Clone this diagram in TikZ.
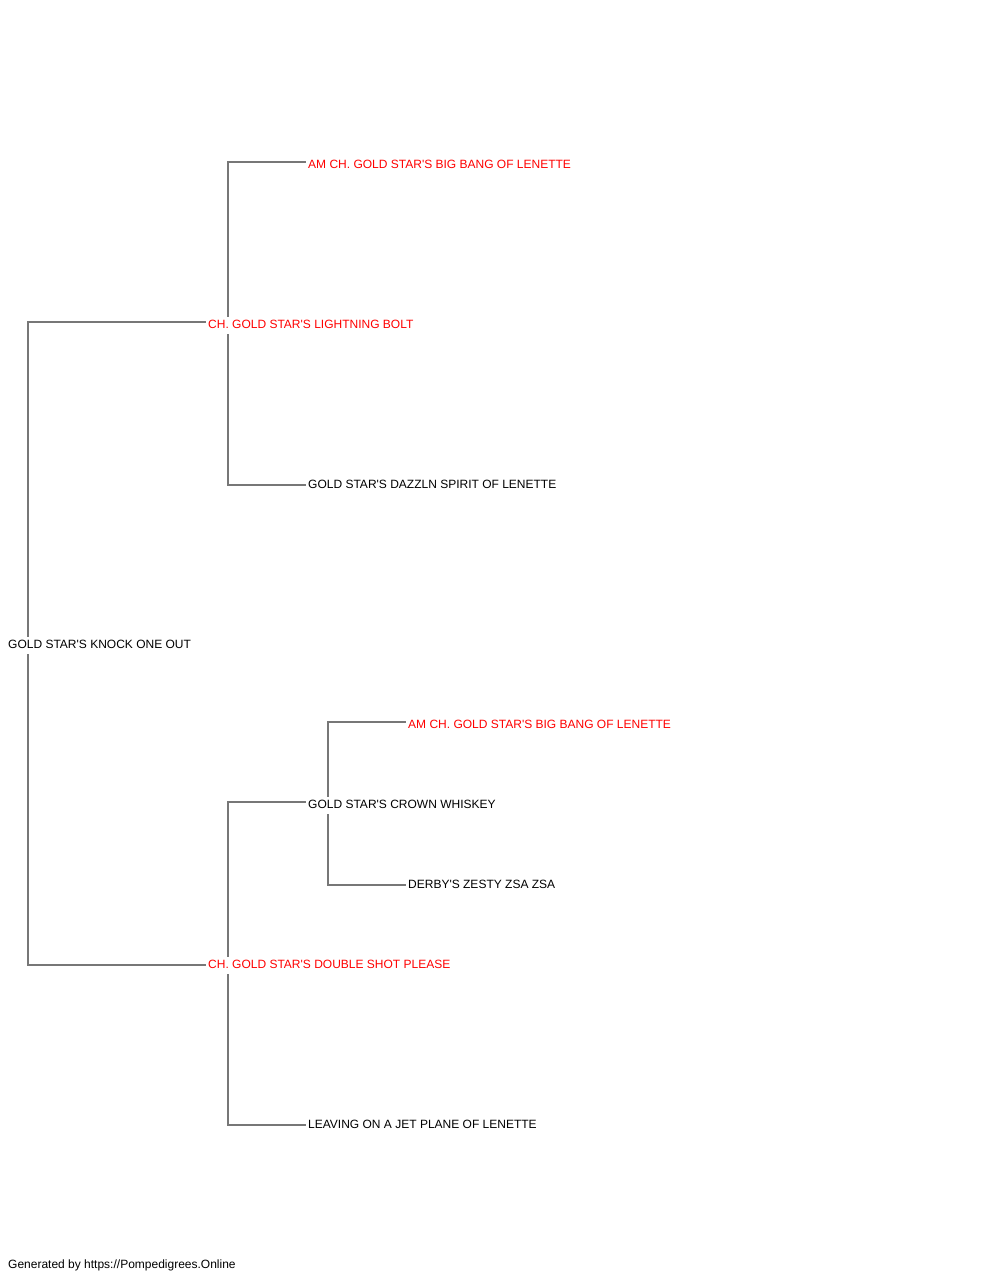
\documentclass[tikz,border=0pt]{standalone}
\usepackage{fontspec}
\setmainfont{Liberation Sans}[Ligatures=TeXOff]
\usetikzlibrary{backgrounds}
\definecolor{linegray}{HTML}{777777}
\definecolor{namered}{HTML}{FF0000}
\tikzset{
  dog/.style={anchor=base west, fill=white, inner xsep=2pt, inner ysep=3pt,
    text height=9pt, text depth=2.5pt, font=\fontsize{12}{14}\selectfont, text=black},
  champ/.style={dog, text=namered},
  link/.style={draw=linegray, line width=1.2pt},
}
\begin{document}
\begin{tikzpicture}[x=1pt,y=-1pt]
\useasboundingbox (0,0) rectangle (1000,1280);
% nodes (base west at baseline)
\node[dog]   (r)   at (6,648.5)   {GOLD STAR'S KNOCK ONE OUT};
\node[champ] (s)   at (206,328.5) {CH. GOLD STAR'S LIGHTNING BOLT};
\node[champ] (d)   at (206,968.5) {CH. GOLD STAR'S DOUBLE SHOT PLEASE};
\node[champ] (ss)  at (306,168.5) {AM CH. GOLD STAR'S BIG BANG OF LENETTE};
\node[dog]   (sd)  at (306,488.5) {GOLD STAR'S DAZZLN SPIRIT OF LENETTE};
\node[dog]   (ds)  at (306,808.5) {GOLD STAR'S CROWN WHISKEY};
\node[dog]   (dd)  at (306,1128.5){LEAVING ON A JET PLANE OF LENETTE};
\node[champ] (dss) at (406,728.5) {AM CH. GOLD STAR'S BIG BANG OF LENETTE};
\node[dog]   (dsd) at (406,888.5) {DERBY'S ZESTY ZSA ZSA};
\node[anchor=base west, inner sep=0pt, font=\fontsize{12}{14}\selectfont] (foot) at (8,1268) {Generated by https://Pompedigrees.Online};
% junction coordinates on the vertical lines
\coordinate (rj)  at (28,644);
\coordinate (sj)  at (228,324);
\coordinate (dj)  at (228,964);
\coordinate (dsj) at (328,804);
\begin{scope}[on background layer]
  \draw[link] ([yshift=6.5pt]s.base west) -| (rj);
  \draw[link] ([yshift=3.5pt]d.base west) -| (rj);
  \draw[link] ([yshift=6.5pt]ss.base west) -| (sj);
  \draw[link] ([yshift=3.5pt]sd.base west) -| (sj);
  \draw[link] ([yshift=6.5pt]ds.base west) -| (dj);
  \draw[link] ([yshift=3.5pt]dd.base west) -| (dj);
  \draw[link] ([yshift=6.5pt]dss.base west) -| (dsj);
  \draw[link] ([yshift=3.5pt]dsd.base west) -| (dsj);
\end{scope}
\end{tikzpicture}
\end{document}
